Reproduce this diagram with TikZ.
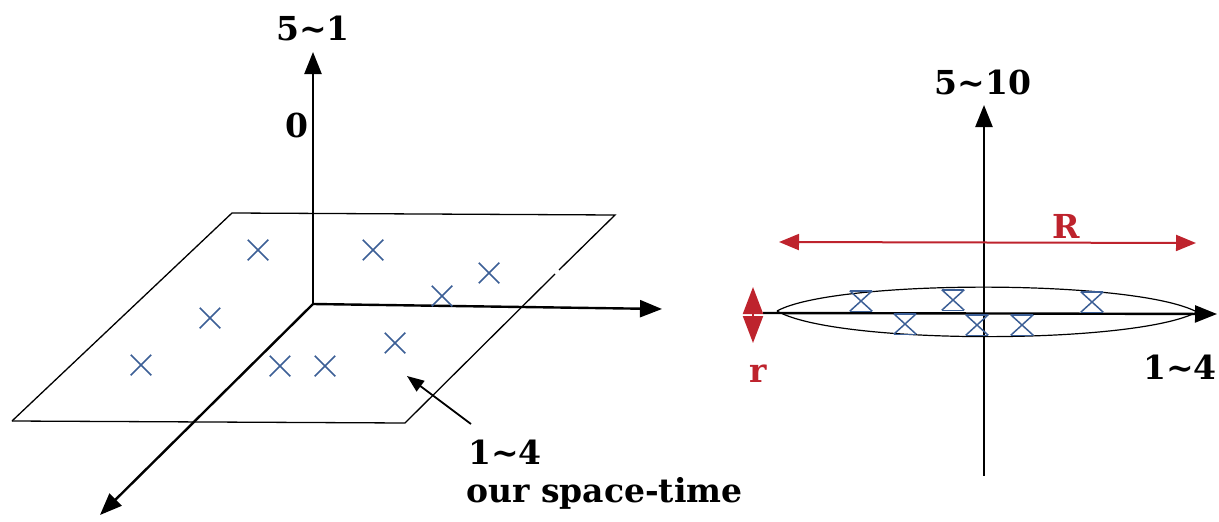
\documentclass[tikz,border=0pt]{standalone}
\usepackage{fontspec}
\setmainfont{DejaVu Serif}
\usetikzlibrary{arrows.meta,shapes.misc}
\definecolor{xblue}{RGB}{60,95,150}
\definecolor{rred}{RGB}{190,35,45}
\begin{document}
\begin{tikzpicture}[x=1pt,y=-1pt,
  axisline/.style={line width=2.4pt,-{Triangle[length=22pt,width=17pt]}},
  edgeline/.style={line width=1.3pt},
  lab/.style={font=\fontsize{33}{38}\selectfont\bfseries, inner sep=0pt},
  redlab/.style={lab, text=rred},
  xmark/.style={draw=xblue, cross out, line width=1.5pt, minimum width=19pt, minimum height=19pt, inner sep=0pt},
  hmark/.style={draw=xblue, cross out, line width=1.5pt, minimum width=21pt, minimum height=19pt, inner sep=0pt},
  redarrow/.style={draw=rred, line width=2pt, {Triangle[length=20pt,width=16pt]}-{Triangle[length=20pt,width=16pt]}},
  pointer/.style={line width=1.8pt,-{Triangle[length=17pt,width=13pt]}}]
\useasboundingbox (0,0) rectangle (1219,522);

% ---------------- left figure ----------------
\coordinate (O) at (313,304);
\coordinate (Otop) at (313,52);
\coordinate (Oright) at (662,309);
\coordinate (Odown) at (100,515);
\coordinate (P1) at (232,213);
\coordinate (P2) at (615,215);
\coordinate (P3) at (405,423);
\coordinate (P4) at (12,421);
\coordinate (Pg1) at (559,270);
\coordinate (Pg2) at (555,274);

\draw[edgeline] (P4) -- (P1) -- (P2) -- (Pg1);
\draw[edgeline] (Pg2) -- (P3) -- (P4);

\draw[axisline] (O) -- (Otop);
\draw[axisline] (O) -- (Oright);
\draw[axisline] (O) -- (Odown);

\node[lab] (l51) at (313,28) {5\textasciitilde 1};
\node[lab] (l0) at (297,125) {0};

\node[xmark] (a1) at (258,250) {};
\node[xmark] (a2) at (373,250) {};
\node[xmark] (a3) at (489,273) {};
\node[xmark] (a4) at (442,296) {};
\node[xmark] (a5) at (210,318) {};
\node[xmark] (a6) at (141,365) {};
\node[xmark] (a7) at (280,366) {};
\node[xmark] (a8) at (325,366) {};
\node[xmark] (a9) at (395,343) {};

\node[lab, anchor=west] (l14) at (468,452) {1\textasciitilde 4};
\node[lab, anchor=west] (lst) at (466,493) {our space-time};
\coordinate (ptail) at (471,424);
\coordinate (ptip) at (407,376);
\draw[pointer] (ptail) -- (ptip);

% ---------------- right figure ----------------
\coordinate (Q) at (984,313);
\coordinate (Qtop) at (984,105);
\coordinate (Qbot) at (984,476);
\coordinate (Qleft) at (763,313);
\coordinate (Qright) at (1217,314);
\coordinate (LL) at (777,311);
\coordinate (LR) at (1197,312);

\draw[line width=1.2pt] (LL) .. controls (835,279) and (1135,279) .. (LR)
                             .. controls (1135,345) and (835,345) .. (LL);
\draw[line width=2.4pt] (Q) -- (Qbot);
\draw[axisline] (Q) -- (Qtop);
\draw[axisline] (Qleft) -- (Qright);

\foreach \n/\x/\y in {b1/861/301, b2/953/300, b3/1092/302, b4/905/324, b5/977/325, b6/1022/325}{
  \node[hmark] (\n) at (\x,\y) {};
  \draw[xblue, line width=1.5pt] (\n.north west) -- (\n.north east) (\n.south west) -- (\n.south east);
}

\node[lab] (l510) at (983,82) {5\textasciitilde 10};
\node[lab] (l14r) at (1180,367) {1\textasciitilde 4};

\coordinate (Rl) at (779,242);
\coordinate (Rr) at (1196,243);
\draw[redarrow] (Rl) -- (Rr);
\node[redlab] (lR) at (1066,226) {R};

\coordinate (rt) at (753,287);
\coordinate (rb) at (753,343);
\draw[draw=rred, line width=2pt, {Triangle[length=27pt,width=20pt]}-{Triangle[length=27pt,width=20pt]}] (rt) -- (rb);
\node[redlab] (lr) at (758,374) {r};
\end{tikzpicture}
\end{document}
